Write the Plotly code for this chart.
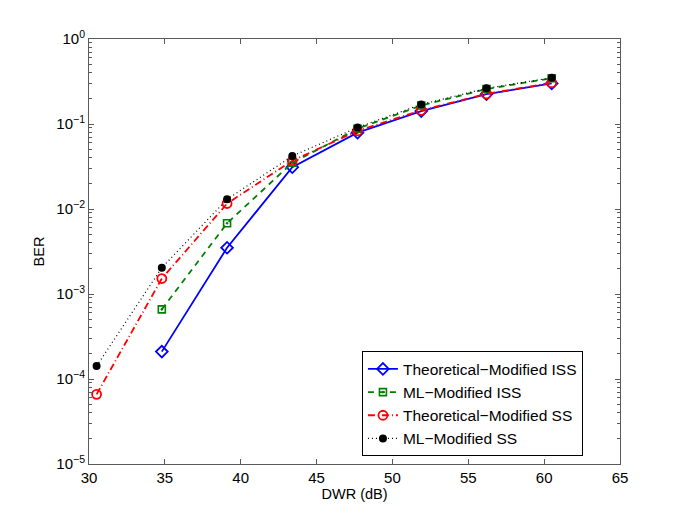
import plotly.graph_objects as go

# DWR (dB) sample points
dwr = [30.5, 34.8, 39.1, 43.4, 47.7, 51.9, 56.2, 60.5]

# BER curves (None = no point)
ber_theo_iss = [None, 2.1e-4, 3.5e-3, 0.031, 0.079, 0.142, 0.224, 0.30]
ber_ml_iss = [None, 6.6e-4, 6.8e-3, 0.035, 0.088, 0.165, 0.258, 0.345]
ber_theo_ss = [6.6e-5, 1.52e-3, 0.0116, 0.037, 0.083, 0.145, 0.226, 0.306]
ber_ml_ss = [1.42e-4, 2.04e-3, 0.013, 0.042, 0.091, 0.170, 0.263, 0.350]

y_tickvals = [1e-5, 1e-4, 1e-3, 1e-2, 1e-1, 1e0]
y_ticktext = ["10<sup>−5</sup>", "10<sup>−4</sup>", "10<sup>−3</sup>",
              "10<sup>−2</sup>", "10<sup>−1</sup>", "10<sup>0</sup>"]
x_tickvals = [30, 35, 40, 45, 50, 55, 60, 65]

minor_y = [m * 10.0 ** e for e in range(-5, 0) for m in range(2, 10)]

AXIS_COLOR = "#5a5a5a"

fig = go.Figure()

# --- the four BER curves ---
fig.add_trace(go.Scatter(
    x=dwr, y=ber_theo_iss, name="Theoretical−Modified ISS",
    mode="lines+markers",
    line=dict(color="#0000ff", width=1.8),
    marker=dict(symbol="diamond-open", size=9, color="#0000ff", line=dict(width=1.8)),
))
fig.add_trace(go.Scatter(
    x=dwr, y=ber_ml_iss, name="ML−Modified ISS",
    mode="lines+markers",
    line=dict(color="#008000", width=1.8, dash="6px,5px"),
    marker=dict(symbol="square-open-dot", size=7, color="#008000", line=dict(width=1.6)),
))
fig.add_trace(go.Scatter(
    x=dwr, y=ber_theo_ss, name="Theoretical−Modified SS",
    mode="lines+markers",
    line=dict(color="#ff0000", width=1.8, dash="7px,3px,1px,3px"),
    marker=dict(symbol="circle-open", size=9, color="#ff0000", line=dict(width=1.8)),
))
fig.add_trace(go.Scatter(
    x=dwr, y=ber_ml_ss, name="ML−Modified SS",
    mode="lines+markers",
    line=dict(color="#000000", width=1.2, dash="1px,3px"),
    marker=dict(symbol="circle", size=8, color="#000000"),
))

# page body adds 8px offset, so margins are shifted accordingly
fig.update_layout(
    width=685, height=523,
    margin=dict(l=81, r=73, t=31, b=67),
    paper_bgcolor="white", plot_bgcolor="white",
    font=dict(family="Liberation Sans, Arial, sans-serif", size=15, color="black"),
    showlegend=True,
    legend=dict(
        x=0.514, y=0.018, xanchor="left", yanchor="bottom",
        bgcolor="white", bordercolor="black", borderwidth=1,
        font=dict(size=15.5), tracegroupgap=0,
        entrywidth=218, entrywidthmode="pixels",
    ),
)

fig.update_xaxes(
    range=[30, 65], tickvals=x_tickvals,
    showgrid=False, zeroline=False,
    showline=True, linecolor=AXIS_COLOR, linewidth=1, mirror="ticks",
    ticks="inside", ticklen=5, tickcolor=AXIS_COLOR,
    tickfont=dict(size=15),
    title=dict(text="DWR (dB)", font=dict(size=14.5), standoff=2),
)
fig.update_yaxes(
    type="log", range=[-5, 0],
    tickvals=y_tickvals, ticktext=y_ticktext,
    showgrid=False, zeroline=False,
    showline=True, linecolor=AXIS_COLOR, linewidth=1, mirror="ticks",
    ticks="inside", ticklen=5, tickcolor=AXIS_COLOR,
    tickfont=dict(size=15),
    minor=dict(tickvals=minor_y, ticks="inside", ticklen=3, tickcolor=AXIS_COLOR, showgrid=False),
    title=dict(text="BER", font=dict(size=14.5), standoff=8),
)

fig.write_html("out.html")
